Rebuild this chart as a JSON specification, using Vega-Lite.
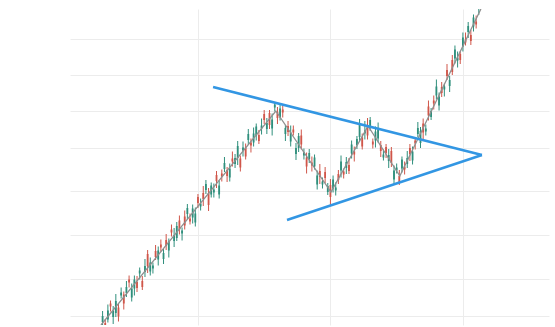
{
  "$schema": "https://vega.github.io/schema/vega-lite/v6.json",
  "width": 479,
  "height": 316,
  "autosize": {"type": "none"},
  "padding": {"left": 70, "top": 9, "right": 6, "bottom": 2},
  "background": "white",
  "config": {"view": {"stroke": null}},
  "datasets": {
    "candles": [
      {"t":14,"o":3,"h":14,"l":-1,"c":9},{"t":15,"o":2,"h":6,"l":-10,"c":-4},{"t":16,"o":5.5,"h":20.5,"l":2.5,"c":14.5},{"t":17,"o":21.5,"h":24.5,"l":13.5,"c":18.5},
      {"t":18,"o":8,"h":19,"l":1,"c":14},{"t":19,"o":12,"h":31,"l":8,"c":24},{"t":20,"o":17.5,"h":21.5,"l":3.5,"c":8.5},{"t":21,"o":29.5,"h":37.5,"l":26.5,"c":32.5},
      {"t":22,"o":30.5,"h":33.5,"l":15.5,"c":21.5},{"t":23,"o":32,"h":44,"l":28,"c":38},{"t":24,"o":45.5,"h":49.5,"l":37.5,"c":42.5},{"t":25,"o":27.5,"h":41.5,"l":23.5,"c":36.5},
      {"t":26,"o":36.5,"h":49.5,"l":29.5,"c":45.5},{"t":27,"o":43,"h":49,"l":33,"c":37},{"t":28,"o":51.5,"h":57.5,"l":45.5,"c":54.5},{"t":29,"o":44,"h":49,"l":35,"c":38},
      {"t":30,"o":53,"h":66,"l":48,"c":59},{"t":31,"o":71,"h":75,"l":52,"c":59},{"t":32,"o":53.5,"h":67.5,"l":49.5,"c":62.5},{"t":33,"o":56.5,"h":62.5,"l":51.5,"c":59.5},
      {"t":34,"o":74,"h":80,"l":65,"c":68},{"t":35,"o":65.5,"h":78.5,"l":59.5,"c":74.5},{"t":36,"o":80.5,"h":85.5,"l":73.5,"c":77.5},{"t":37,"o":66,"h":76,"l":61,"c":72},
      {"t":38,"o":85,"h":91,"l":75,"c":79},{"t":39,"o":74.5,"h":86.5,"l":67.5,"c":83.5},{"t":40,"o":95.5,"h":100.5,"l":88.5,"c":92.5},{"t":41,"o":84,"h":97,"l":78,"c":90},
      {"t":42,"o":87,"h":103,"l":84,"c":99},{"t":43,"o":104.5,"h":109.5,"l":90.5,"c":95.5},{"t":44,"o":91.5,"h":97.5,"l":84.5,"c":94.5},{"t":45,"o":108.5,"h":114.5,"l":95.5,"c":99.5},
      {"t":46,"o":111,"h":121,"l":106,"c":117},{"t":47,"o":106.5,"h":111.5,"l":100.5,"c":103.5},{"t":48,"o":107.5,"h":120.5,"l":101.5,"c":116.5},{"t":49,"o":102.5,"h":117.5,"l":98.5,"c":111.5},
      {"t":50,"o":128,"h":131,"l":117,"c":122},{"t":51,"o":118.5,"h":126.5,"l":114.5,"c":121.5},{"t":52,"o":132,"h":139,"l":119,"c":126},{"t":53,"o":135,"h":145,"l":131,"c":141},
      {"t":54,"o":132,"h":137,"l":114,"c":120},{"t":55,"o":130.5,"h":142.5,"l":127.5,"c":139.5},{"t":56,"o":132.5,"h":141.5,"l":127.5,"c":135.5},{"t":57,"o":150,"h":154,"l":137,"c":144},
      {"t":58,"o":130.5,"h":144.5,"l":126.5,"c":139.5},{"t":59,"o":151.5,"h":155.5,"l":143.5,"c":148.5},{"t":60,"o":156,"h":168,"l":153,"c":162},{"t":61,"o":155,"h":158,"l":143,"c":149},
      {"t":62,"o":147.5,"h":161.5,"l":143.5,"c":156.5},{"t":63,"o":166.5,"h":173.5,"l":158.5,"c":163.5},{"t":64,"o":161,"h":171,"l":157,"c":167},{"t":65,"o":167,"h":184,"l":160,"c":179},
      {"t":66,"o":166.5,"h":169.5,"l":153.5,"c":157.5},{"t":67,"o":174.5,"h":183.5,"l":168.5,"c":177.5},{"t":68,"o":177.5,"h":181.5,"l":165.5,"c":168.5},{"t":69,"o":185,"h":196,"l":180,"c":191},
      {"t":70,"o":182.5,"h":186.5,"l":172.5,"c":179.5},{"t":71,"o":182.5,"h":197.5,"l":178.5,"c":191.5},{"t":72,"o":189.5,"h":201.5,"l":184.5,"c":198.5},{"t":73,"o":190,"h":195,"l":181,"c":184},
      {"t":74,"o":196.5,"h":206.5,"l":190.5,"c":199.5},{"t":75,"o":211,"h":215,"l":201,"c":205},{"t":76,"o":196,"h":207,"l":191,"c":202},{"t":77,"o":212,"h":215,"l":196,"c":200},
      {"t":78,"o":196.5,"h":211.5,"l":189.5,"c":205.5},{"t":79,"o":217.5,"h":223,"l":213.5,"c":220.5},{"t":80,"o":213,"h":218,"l":201,"c":207},{"t":81,"o":207.5,"h":220.5,"l":204.5,"c":216.5},
      {"t":82,"o":215.5,"h":220,"l":207.5,"c":212.5},{"t":83,"o":191,"h":200,"l":184,"c":197},{"t":84,"o":199,"h":204,"l":189,"c":193},{"t":85,"o":183.5,"h":199.5,"l":178.5,"c":192.5},
      {"t":86,"o":195.5,"h":199.5,"l":189.5,"c":192.5},{"t":87,"o":171,"h":182,"l":165,"c":177},{"t":88,"o":177,"h":192,"l":173,"c":189},{"t":89,"o":189.5,"h":195.5,"l":175.5,"c":180.5},
      {"t":90,"o":169.5,"h":176.5,"l":165.5,"c":172.5},{"t":91,"o":167.5,"h":172.5,"l":151.5,"c":158.5},{"t":92,"o":166,"h":176,"l":162,"c":172},{"t":93,"o":162.5,"h":168.5,"l":153.5,"c":159.5},
      {"t":94,"o":158.5,"h":170.5,"l":155.5,"c":167.5},{"t":95,"o":140.5,"h":154.5,"l":135.5,"c":149.5},{"t":96,"o":154,"h":161,"l":141,"c":148},{"t":97,"o":140.5,"h":147.5,"l":136.5,"c":143.5},
      {"t":98,"o":153,"h":158,"l":142,"c":147},{"t":99,"o":133,"h":142,"l":130,"c":139},{"t":100,"o":140,"h":146,"l":120,"c":128},{"t":101,"o":136.5,"h":149.5,"l":132.5,"c":145.5},
      {"t":102,"o":134.5,"h":142.5,"l":129.5,"c":137.5},{"t":103,"o":151,"h":155,"l":141,"c":145},{"t":104,"o":154.5,"h":169.5,"l":147.5,"c":163.5},{"t":105,"o":153.5,"h":156.5,"l":146.5,"c":150.5},
      {"t":106,"o":157,"h":168,"l":151,"c":163},{"t":107,"o":160,"h":167,"l":151,"c":154},{"t":108,"o":171.5,"h":184.5,"l":166.5,"c":180.5},{"t":109,"o":173.5,"h":178.5,"l":163.5,"c":170.5},
      {"t":110,"o":180,"h":189,"l":176,"c":186},{"t":111,"o":188,"h":206,"l":183,"c":200},{"t":112,"o":187.5,"h":191.5,"l":175.5,"c":178.5},{"t":113,"o":191.5,"h":204,"l":185.5,"c":194.5},
      {"t":114,"o":198.5,"h":207,"l":185.5,"c":189.5},{"t":115,"o":199,"h":208,"l":194,"c":205},{"t":116,"o":183.5,"h":186.5,"l":176.5,"c":180.5},{"t":117,"o":184.5,"h":198.5,"l":177.5,"c":193.5},
      {"t":118,"o":186.5,"h":202.5,"l":182.5,"c":195.5},{"t":119,"o":180,"h":184,"l":168,"c":174},{"t":120,"o":167.5,"h":175.5,"l":164.5,"c":170.5},{"t":121,"o":178,"h":181,"l":167,"c":172},
      {"t":122,"o":164,"h":176,"l":157,"c":170},{"t":123,"o":174,"h":178,"l":158,"c":162},{"t":124,"o":145.5,"h":159.5,"l":141,"c":154.5},{"t":125,"o":154.5,"h":161.5,"l":151.5,"c":157.5},
      {"t":126,"o":149,"h":155,"l":140,"c":143},{"t":127,"o":156.5,"h":168.5,"l":152.5,"c":165.5},{"t":128,"o":158.5,"h":163.5,"l":150.5,"c":155.5},{"t":129,"o":161,"h":174,"l":157,"c":167},
      {"t":130,"o":177,"h":181,"l":164,"c":171},{"t":131,"o":164.5,"h":178.5,"l":160.5,"c":173.5},{"t":132,"o":184.5,"h":187.5,"l":175.5,"c":181.5},{"t":133,"o":191,"h":203,"l":188,"c":197},
      {"t":134,"o":182,"h":198,"l":177,"c":194},{"t":135,"o":201.5,"h":206.5,"l":185.5,"c":192.5},{"t":136,"o":193.5,"h":200.5,"l":189.5,"c":196.5},{"t":137,"o":218.5,"h":224.5,"l":204.5,"c":209.5},
      {"t":138,"o":208,"h":217,"l":205,"c":214},{"t":139,"o":224.5,"h":229.5,"l":215.5,"c":221.5},{"t":140,"o":229.5,"h":245.5,"l":225.5,"c":238.5},{"t":141,"o":219.5,"h":232.5,"l":214.5,"c":228.5},
      {"t":142,"o":238,"h":243,"l":228,"c":232},{"t":143,"o":235.5,"h":241.5,"l":228.5,"c":238.5},{"t":144,"o":255,"h":261,"l":245,"c":249},{"t":145,"o":239,"h":249,"l":233,"c":245},
      {"t":146,"o":265,"h":270,"l":250,"c":253},{"t":147,"o":266.5,"h":279.5,"l":261.5,"c":275.5},{"t":148,"o":264.5,"h":273.5,"l":257.5,"c":267.5},{"t":149,"o":271,"h":274,"l":261,"c":265},
      {"t":150,"o":278.5,"h":292.5,"l":273.5,"c":287.5},{"t":151,"o":285.5,"h":292.5,"l":279.5,"c":282.5},{"t":152,"o":293,"h":303,"l":287,"c":299},{"t":153,"o":290,"h":295,"l":280,"c":284},
      {"t":154,"o":298.5,"h":310.5,"l":293.5,"c":307.5},{"t":155,"o":303.5,"h":309.5,"l":296.5,"c":300.5},{"t":156,"o":317,"h":327,"l":310,"c":323}
    ],
    "trend": [
      {"t":13.4,"p":0},{"t":79.4,"p":214},{"t":100.2,"p":133},{"t":114.2,"p":199},{"t":126.2,"p":149},{"t":156.8,"p":316}
    ],
    "triangle": [
      {"t":55.7,"p":238,"side":"upper"},{"t":157.2,"p":170,"side":"upper"},
      {"t":83.6,"p":105,"side":"lower"},{"t":157.2,"p":170,"side":"lower"}
    ]
  },
  "layer": [
    {
      "data": {"name": "candles"},
      "mark": {"type": "rule", "strokeWidth": 1, "clip": true},
      "encoding": {
        "x": {"field": "t", "type": "quantitative", "scale": {"domain": [1.7, 182.5], "nice": false, "zero": false},
              "axis": {"values": [50, 100, 150], "labels": false, "ticks": false, "domain": false, "title": null, "grid": true, "gridColor": "#ececec", "gridWidth": 1}},
        "y": {"field": "l", "type": "quantitative", "scale": {"domain": [0, 316], "nice": false, "zero": false},
              "axis": {"values": [9, 46, 90, 134, 177, 214, 250, 286], "labels": false, "ticks": false, "domain": false, "title": null, "grid": true, "gridColor": "#ececec", "gridWidth": 1}},
        "y2": {"field": "h"},
        "color": {"condition": {"test": "datum.c >= datum.o", "value": "#2f8f7c"}, "value": "#d0564a"}
      }
    },
    {
      "data": {"name": "candles"},
      "mark": {"type": "rule", "strokeWidth": 1.8, "clip": true},
      "encoding": {
        "x": {"field": "t", "type": "quantitative"},
        "y": {"field": "o", "type": "quantitative"},
        "y2": {"field": "c"},
        "color": {"condition": {"test": "datum.c >= datum.o", "value": "#2f8f7c"}, "value": "#d0564a"}
      }
    },
    {
      "data": {"name": "trend"},
      "mark": {"type": "line", "color": "#8f8f8f", "strokeWidth": 1.3, "clip": true},
      "encoding": {
        "x": {"field": "t", "type": "quantitative"},
        "y": {"field": "p", "type": "quantitative"}
      }
    },
    {
      "data": {"name": "triangle"},
      "mark": {"type": "line", "color": "#3296e3", "strokeWidth": 2.5, "clip": true},
      "encoding": {
        "x": {"field": "t", "type": "quantitative"},
        "y": {"field": "p", "type": "quantitative"},
        "detail": {"field": "side"}
      }
    }
  ]
}
